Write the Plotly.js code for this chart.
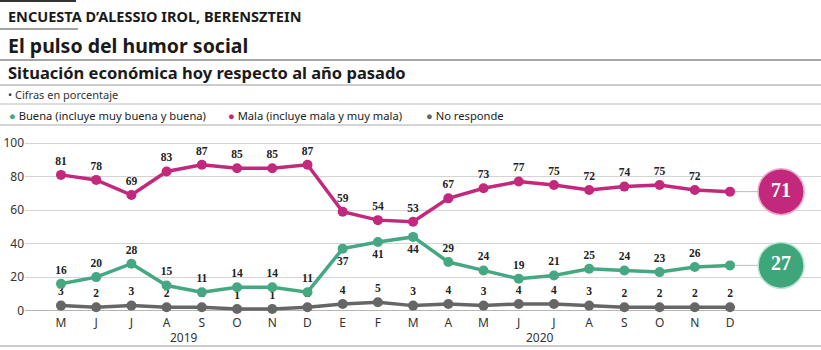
<!DOCTYPE html>
<html><head><meta charset="utf-8">
<script src="https://cdn.plot.ly/plotly-3.0.1.min.js"></script>
<style>html,body{margin:0;padding:0;background:#fff}</style>
</head><body><div id="chart" style="width:821px;height:350px"></div>
<script>
const months = ["M","J","J","A","S","O","N","D","E","F","M","A","M","J","J","A","S","O","N","D"];
const years = ["2019","2020"];
const mala = [81,78,69,83,87,85,85,87,59,54,53,67,73,77,75,72,74,75,72,71];
const buena = [16,20,28,15,11,14,14,11,37,41,44,29,24,19,21,25,24,23,26,27];
const noResp = [3,2,3,2,2,1,1,2,4,5,3,4,3,4,4,3,2,2,2,2];
const seriesNames = ["Buena (incluye muy buena y buena)","Mala (incluye mala y muy mala)","No responde"];

const C_MALA = "#c2287c", C_BUENA = "#45a882", C_NR = "#666666";
const W = 821, H = 350, L = 25, R = 0, T = 138, B = 36;
const PW = W - L - R, PH = H - T - B;
const px = x => (x - L) / PW;
const py = y => (H - B - y) / PH;
const idx = months.map((m, i) => i);
const last = idx.length - 1;
const badgeX = last + 1.45;

const labelFont = {family: "Liberation Serif, serif", size: 11.5, color: "#222", weight: "bold"};
const sansFam = "Noto Sans, Open Sans, sans-serif";

function labels(vals, skipLast) {
  return vals.map((v, i) => (skipLast && i === last) ? "" : String(v));
}
const buenaPos = buena.map((v, i) => (i >= 8 && i <= 10) ? "bottom center" : "top center");

const traces = [
  {x: [last, badgeX], y: [mala[last], mala[last]], mode: "lines", line: {color: "#bbbbbb", width: 1}, hoverinfo: "skip", showlegend: false},
  {x: [last, badgeX], y: [buena[last], buena[last]], mode: "lines", line: {color: "#bbbbbb", width: 1}, hoverinfo: "skip", showlegend: false},
  {x: idx, y: noResp, name: seriesNames[2], mode: "lines+markers+text", line: {color: C_NR, width: 3.5},
   marker: {color: C_NR, size: 10}, text: labels(noResp, false), textposition: "top center", textfont: labelFont, cliponaxis: false},
  {x: idx, y: buena, name: seriesNames[0], mode: "lines+markers+text", line: {color: C_BUENA, width: 3.5},
   marker: {color: C_BUENA, size: 10}, text: labels(buena, true), textposition: buenaPos, textfont: labelFont, cliponaxis: false},
  {x: idx, y: mala, name: seriesNames[1], mode: "lines+markers+text", line: {color: C_MALA, width: 3.5},
   marker: {color: C_MALA, size: 10}, text: labels(mala, true), textposition: "top center", textfont: labelFont, cliponaxis: false},
  {x: [badgeX, badgeX], y: [mala[last], buena[last]], mode: "markers+text",
   marker: {color: [C_MALA, "#3fa57b"], size: 46, line: {color: ["#f0a8cf", "#b8e6d2"], width: 1.5}},
   text: [String(mala[last]), String(buena[last])], textposition: "middle center",
   textfont: {family: "Liberation Serif, serif", size: 20, color: "#ffffff", weight: "bold"},
   hoverinfo: "skip", showlegend: false, cliponaxis: false}
];

const annotations = [
  {text: "<b>ENCUESTA D’ALESSIO IROL, BERENSZTEIN</b>", x: px(6), y: py(16), font: {family: sansFam, size: 14.5, color: "#1a1a1a"}},
  {text: "<b>El pulso del humor social</b>", x: px(6), y: py(45), font: {family: sansFam, size: 19.5, color: "#1a1a1a"}},
  {text: "<b>Situación económica hoy respecto al año pasado</b>", x: px(6), y: py(73), font: {family: sansFam, size: 16.5, color: "#1a1a1a"}},
  {text: "• Cifras en porcentaje", x: px(6), y: py(94), font: {family: sansFam, size: 11, color: "#333"}},
  {text: `<span style="color:${C_BUENA}">●</span> ${seriesNames[0]}`, x: px(7), y: py(115), font: {family: sansFam, size: 11.2, color: "#222"}},
  {text: `<span style="color:${C_MALA}">●</span> ${seriesNames[1]}`, x: px(226), y: py(115), font: {family: sansFam, size: 11.2, color: "#222"}},
  {text: `<span style="color:${C_NR}">●</span> ${seriesNames[2]}`, x: px(424), y: py(115), font: {family: sansFam, size: 11.2, color: "#222"}},
].map(a => Object.assign({xref: "paper", yref: "paper", xanchor: "left", yanchor: "middle", showarrow: false}, a));

annotations.push(
  {text: years[0], xref: "x", yref: "paper", x: 3.5, y: py(337), xanchor: "center", yanchor: "middle", showarrow: false, font: {family: sansFam, size: 12, color: "#333"}},
  {text: years[1], xref: "x", yref: "paper", x: 13.6, y: py(337), xanchor: "center", yanchor: "middle", showarrow: false, font: {family: sansFam, size: 12, color: "#333"}}
);

const hl = (y, x0, x1, color, w) => ({type: "line", xref: "paper", yref: "paper", x0: px(x0), x1: px(x1), y0: py(y), y1: py(y), line: {color: color, width: w}});
const shapes = [
  hl(1, 0, 76, "#333", 2),
  hl(29, 0, 78, "#888", 1.5),
  hl(60, 0, 821, "#888", 1.5),
  hl(85, 0, 821, "#999", 1.2),
  hl(104, 0, 821, "#bbb", 1),
  hl(125, 0, 821, "#aaa", 1.2),
  hl(346, 0, 821, "#999", 1.2)
];

const layout = {
  width: W, height: H, autosize: false,
  margin: {l: L, r: R, t: T, b: B, pad: 0},
  paper_bgcolor: "#fff", plot_bgcolor: "#fff",
  showlegend: false,
  xaxis: {range: [-1.022, 21.584], tickvals: idx, ticktext: months, showgrid: false, zeroline: false,
          showline: false, ticks: "", tickfont: {family: sansFam, size: 12, color: "#333"}, fixedrange: true},
  yaxis: {range: [-2, 103], tickvals: [0,20,40,60,80,100], showgrid: true, gridcolor: "#d4d4d4", gridwidth: 1,
          zeroline: true, zerolinecolor: "#b5b5b5", zerolinewidth: 1.2, showline: false, ticks: "",
          tickfont: {family: sansFam, size: 12, color: "#333"}, fixedrange: true},
  annotations: annotations,
  shapes: shapes
};
Plotly.newPlot("chart", traces, layout, {displayModeBar: false, staticPlot: true});
</script></body></html>
